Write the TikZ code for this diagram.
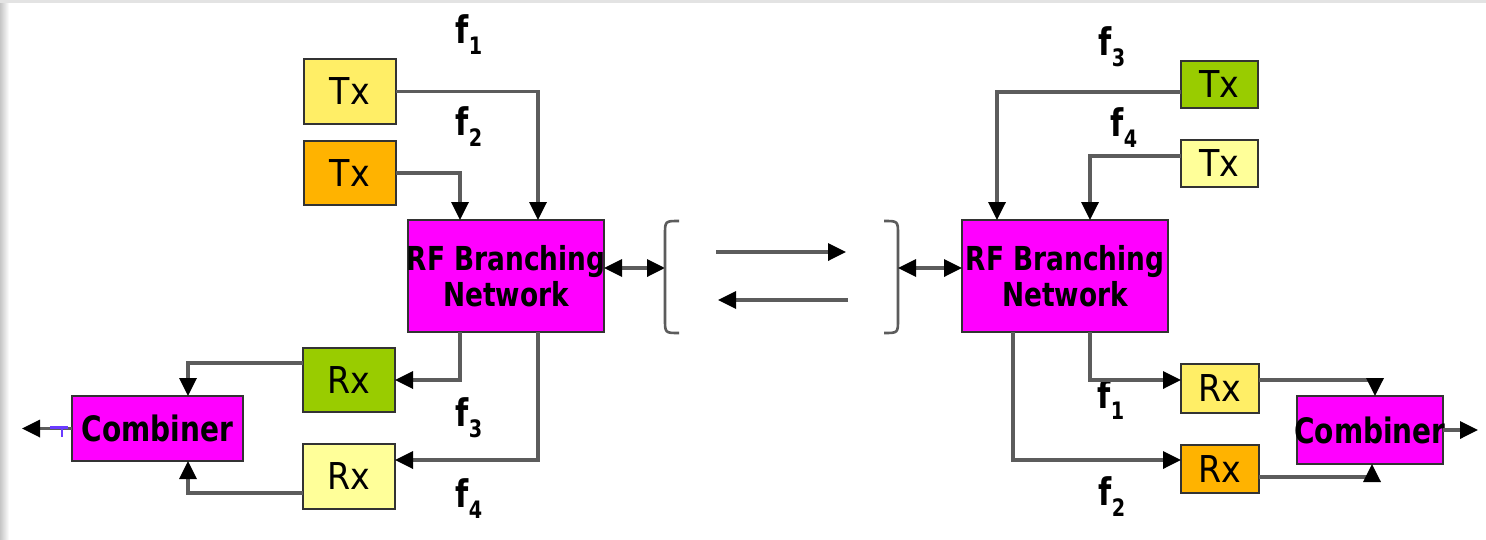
\documentclass[tikz,border=0pt]{standalone}
\usepackage{fontspec}
\usetikzlibrary{arrows.meta}
\newfontfamily\regfont[FakeStretch=0.9]{DejaVu Sans}
\newfontfamily\headfont[FakeStretch=0.8]{DejaVu Sans Bold}
\definecolor{paleyellow}{HTML}{FFFF99}
\definecolor{lightyellow}{HTML}{FFEE66}
\definecolor{amber}{HTML}{FFB300}
\definecolor{leaf}{HTML}{99CC00}
\definecolor{mag}{HTML}{FF00FF}
\definecolor{wirecol}{HTML}{5C5C5C}
\definecolor{edgecol}{HTML}{333333}
\definecolor{glitch}{HTML}{6A3BFF}
% frequency label: bold f with a lowered index
\newcommand\fsub[1]{f\raisebox{-11pt}{\fontsize{24}{24}\selectfont #1}}
% text that may run past the edges of its box
\newcommand\spill[1]{\makebox[0pt][c]{#1}}

\begin{document}
\begin{tikzpicture}[x=1pt,y=-1pt,
  >={Triangle[length=18pt,width=17pt,color=black]},
  unit/.style={draw=edgecol,line width=2.2pt,inner sep=0pt,outer sep=0pt,
    font=\regfont\fontsize{37}{40}\selectfont},
  block/.style={draw=edgecol,fill=mag,line width=2.2pt,inner sep=0pt,outer sep=0pt,
    align=center,font=\headfont\fontsize{33}{36}\selectfont},
  combo/.style={block,font=\headfont\fontsize{35}{36}\selectfont},
  flab/.style={inner sep=0pt,font=\headfont\fontsize{38}{38}\selectfont},
  wire/.style={draw=wirecol,line width=3.4pt},
  conn/.style={wire,->},
  bidir/.style={wire,<->},
]
% page and its grey edges
\useasboundingbox (0,0) rectangle (1486,539);
\fill[white] (0,0) rectangle (1486,539);
\shade[left color=gray!45,right color=white] (0,0) rectangle (9,539);
\fill[gray!22] (0,0) rectangle (1486,3);

% ---------- left terminal ----------
\node[unit,fill=lightyellow,minimum width=92pt,minimum height=65pt] (tx1) at (350,91.5) {Tx};
\node[unit,fill=amber,minimum width=92pt,minimum height=64pt] (tx2) at (350,173) {Tx};
\node[block,minimum width=196pt,minimum height=112pt] (rfL) at (506,276) {\spill{RF Branching}\\\spill{Network}};
\node[unit,fill=leaf,minimum width=92pt,minimum height=64pt] (rxL1) at (349,380) {Rx};
\node[unit,fill=paleyellow,minimum width=92pt,minimum height=65pt] (rxL2) at (349,476.5) {Rx};
\node[combo,minimum width=171pt,minimum height=65pt] (combL) at (157.5,428.5) {\spill{Combiner}};

\node[flab] (lf1) at (469,35) {\fsub{1}};
\node[flab] (lf2) at (469,127) {\fsub{2}};
\node[flab] (lf3) at (469,418) {\fsub{3}};
\node[flab] (lf4) at (469,499) {\fsub{4}};

\coordinate (outL) at (22,428.5);
\coordinate (brL) at (665,268);

\draw[conn] (tx1.east) -| ([xshift=32pt]rfL.north);
\draw[conn] (tx2.east) -| ([xshift=-46pt]rfL.north);
\draw[bidir] ([yshift=8pt]rfL.east) -- (brL);
\draw[conn] ([xshift=-46pt]rfL.south) |- (rxL1.east);
\draw[conn] ([xshift=32pt]rfL.south) |- ([yshift=16.5pt]rxL2.east);
\draw[conn] ([yshift=17pt]rxL1.west) -| ([xshift=30.5pt]combL.north);
\draw[conn] ([yshift=-16.5pt]rxL2.west) -| ([xshift=30.5pt]combL.south);
\draw[conn] (combL.west) -- (outL);
\draw[glitch,line width=2.2pt] (50,427.5) -- (68,427.5) (62,427.5) -- (62,437);

% ---------- radio path between the two ends ----------
\draw[wirecol,line width=2.6pt] (679,221) .. controls (665,221) .. (665,235) -- (665,319)
  .. controls (665,333) .. (679,333);
\draw[wirecol,line width=2.6pt] (884,221) .. controls (898,221) .. (898,235) -- (898,319)
  .. controls (898,333) .. (884,333);
\coordinate (fwdA) at (716,252);
\coordinate (fwdB) at (846,252);
\coordinate (revA) at (848,300);
\coordinate (revB) at (718,300);
\draw[conn] (fwdA) -- (fwdB);
\draw[conn] (revA) -- (revB);

% ---------- right terminal ----------
\coordinate (brR) at (898,268);
\node[unit,fill=leaf,minimum width=77pt,minimum height=47pt] (tx3) at (1219.5,84.5) {Tx};
\node[unit,fill=paleyellow,minimum width=77pt,minimum height=47pt] (tx4) at (1219.5,163.5) {Tx};
\node[block,minimum width=206pt,minimum height=112pt] (rfR) at (1065,276) {\spill{RF Branching}\\\spill{Network}};
\node[unit,fill=lightyellow,minimum width=78pt,minimum height=49pt] (rxR1) at (1220,388.5) {Rx};
\node[unit,fill=amber,minimum width=78pt,minimum height=48pt] (rxR2) at (1220,469) {Rx};
\node[combo,minimum width=146pt,minimum height=68pt] (combR) at (1370,430) {\spill{Combiner}};
\coordinate (outR) at (1478,430);

\node[flab] (rf3) at (1112,47) {\fsub{3}};
\node[flab] (rf4) at (1124,128) {\fsub{4}};
\node[flab] (rf1) at (1111,400) {\fsub{1}};
\node[flab] (rf2) at (1112,497) {\fsub{2}};

\draw[conn] ([yshift=-7.5pt]tx3.west) -| ([xshift=-68pt]rfR.north);
\draw[conn] ([yshift=7.5pt]tx4.west) -| ([xshift=25pt]rfR.north);
\draw[bidir] (brR) -- ([yshift=8pt]rfR.west);
\draw[conn] ([xshift=25pt]rfR.south) |- ([yshift=8.5pt]rxR1.west);
\draw[conn] ([xshift=-52pt]rfR.south) |- ([yshift=9pt]rxR2.west);
\draw[conn] ([yshift=8.5pt]rxR1.east) -| ([xshift=5pt]combR.north);
\draw[conn] ([yshift=-8pt]rxR2.east) -| ([xshift=2pt]combR.south);
\draw[conn] (combR.east) -- (outR);
\end{tikzpicture}
\end{document}
